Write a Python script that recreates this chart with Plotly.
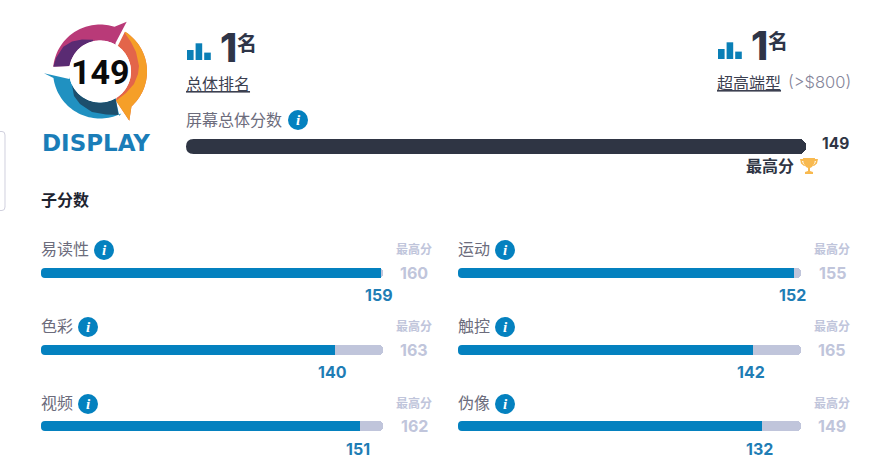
import math
import plotly.graph_objects as go

W = 888
H = 473

# scores
overall_score = 149
overall_max = 149
categories = ["易读性", "色彩", "视频", "运动", "触控", "伪像"]
scores = [159, 140, 151, 152, 142, 132]
max_scores = [160, 163, 162, 155, 165, 149]

BLUE = "#0481bf"
TRACK = "#c0c5db"
DARK = "#2f3544"
CJK = "Noto Sans CJK SC"
NUM = "Inter"


def px(x):
    return x / W


def py(y):
    return 1 - y / H


fig = go.Figure()
annotations = []
shapes = []


def label(x, y, text, size, color, anchor="left", family=CJK, weight=400, **kw):
    xref = kw.pop("xref", "paper")
    annotations.append(dict(
        x=x if xref != "paper" else px(x), y=py(y), xref=xref, yref="paper", text=text,
        showarrow=False, xanchor=anchor, yanchor="middle", borderpad=0,
        font=dict(size=size, color=color, family=family, weight=weight, **kw.pop("font", {})),
        **kw,
    ))


def poly(points, color):
    path = "M" + " L".join(f"{px(a):.5f},{py(b):.5f}" for a, b in points) + " Z"
    shapes.append(dict(type="path", xref="paper", yref="paper", path=path,
                       fillcolor=color, line=dict(width=0), layer="above"))


def arc(cx, cy, r, a0, a1, n=40):
    out = []
    for i in range(n + 1):
        a = math.radians(a0 + (a1 - a0) * i / n)
        out.append((cx + r * math.cos(a), cy - r * math.sin(a)))
    return out


def add_bar(name, value, top, x0, x1, y0, y1, color, idx, radius):
    # each bar gets its own little axis pair, range is the max score
    xa = f"x{idx}"
    ya = f"y{idx}"
    fig.add_trace(go.Bar(y=[name], x=[top], orientation="h",
                         marker=dict(color=TRACK, line=dict(width=0), cornerradius=radius),
                         xaxis=xa, yaxis=ya, hoverinfo="skip", showlegend=False))
    fig.add_trace(go.Bar(y=[name], x=[value], orientation="h",
                         marker=dict(color=color, line=dict(width=0), cornerradius=radius),
                         xaxis=xa, yaxis=ya, showlegend=False))
    axis = dict(visible=False, fixedrange=True)
    fig.update_layout({
        f"xaxis{idx}": dict(domain=[px(x0), px(x1)], range=[0, top], anchor=ya, **axis),
        f"yaxis{idx}": dict(domain=[py(y1), py(y0)], anchor=xa, **axis),
    })
    # plotly only rounds the far end of a bar, so mask the two corners at the base
    for ye, sign in [(y0, 1), (y1, -1)]:
        path = (f"M{px(x0 - 0.5):.5f},{py(ye - sign):.5f} L{px(x0 + radius):.5f},{py(ye - sign):.5f} "
                f"L{px(x0 + radius):.5f},{py(ye):.5f} Q{px(x0):.5f},{py(ye):.5f} {px(x0):.5f},{py(ye + sign * radius):.5f} "
                f"L{px(x0 - 0.5):.5f},{py(ye + sign * radius):.5f} Z")
        shapes.append(dict(type="path", xref="paper", yref="paper", path=path,
                           fillcolor="white", line=dict(width=0), layer="above"))


def info(cx, cy):
    shapes.append(dict(type="circle", xref="paper", yref="paper", x0=px(cx - 10), x1=px(cx + 10),
                       y0=py(cy + 10), y1=py(cy - 10), fillcolor=BLUE, line=dict(width=0)))
    label(cx, cy, "<i>i</i>", 15, "white", anchor="center", family="Liberation Serif", weight=700)


def rank_icon(x, ybase):
    for dx, h in [(0, 10), (8.6, 16.7), (17.2, 7.4)]:
        shapes.append(dict(type="rect", xref="paper", yref="paper", x0=px(x + dx), x1=px(x + dx + 6.6),
                           y0=py(ybase), y1=py(ybase - h), fillcolor="#0a7fb6", line=dict(width=0)))


# overall bar
add_bar("屏幕总体分数", overall_score, overall_max, 186, 806, 139, 154, DARK, 1, 7.5)

# sub score bars, two columns of three
col_x = [(41, 383), (458, 801)]
row_top = [268, 345, 421]
text_y = [248, 325, 402]
score_y = [295, 372, 449]
info_x = [104, 88, 88, 505, 505, 505]
for i, name in enumerate(categories):
    col = i // 3
    row = i % 3
    x0, x1 = col_x[col]
    idx = i + 2
    add_bar(name, scores[i], max_scores[i], x0, x1, row_top[row], row_top[row] + 10, BLUE, idx, 4)
    label(x0 - 1, text_y[row], name, 16, "#6c6c7c")
    info(info_x[i], text_y[row] + 2)
    side = x1 + 31
    label(side, text_y[row], "最高分", 12, TRACK, anchor="center", weight=700)
    label(side, row_top[row] + 5, str(max_scores[i]), 16, TRACK, anchor="center", family=NUM, weight=700)
    label(scores[i], score_y[row], str(scores[i]), 16, "#1f7db5", anchor="center", family=NUM, weight=700,
          xref=f"x{idx}", xshift=-2)

# rank blocks
rank_icon(187, 60)
label(219, 47, "1", 39, "#2e3548", family=NUM, weight=800)
label(236, 42, "名", 20, "#2e3548", weight=700)
label(185, 83, "总体排名", 16, "#3c4050", font=dict(lineposition="under"))
rank_icon(718, 59)
label(750, 46, "1", 39, "#2e3548", family=NUM, weight=800)
label(767, 41, "名", 20, "#2e3548", weight=700)
label(716, 82, "超高端型", 16, "#3c4050", font=dict(lineposition="under"))
label(787, 82, "(&gt;$800)", 16.5, "#85859a", family=NUM, weight=300)

label(185, 119, "屏幕总体分数", 16, "#6c6c7c")
info(298, 120)
label(850, 143, "149", 15.5, DARK, anchor="right", family=NUM, weight=700)
label(745, 165, "最高分", 16, DARK, weight=700)
label(40, 199, "子分数", 16, "#1e2430", weight=700)

# trophy
gold = "#f8b94f"
poly([(803, 158), (815, 158), (814.5, 163), (812, 167), (810, 168), (810, 171), (813, 172), (813, 174),
      (805, 174), (805, 172), (808, 171), (808, 168), (806, 167), (803.5, 163)], gold)
poly([(800, 159), (804, 159), (804.5, 161), (802, 161), (803, 163.5), (805.5, 165.5), (804, 166), (801, 163.5)], gold)
poly([(818, 159), (814, 159), (813.5, 161), (816, 161), (815, 163.5), (812.5, 165.5), (814, 166), (817, 163.5)], gold)

# card edge on the left
card = (f"M0,{py(131.5):.5f} L{px(2):.5f},{py(131.5):.5f} Q{px(5):.5f},{py(131.5):.5f} {px(5):.5f},{py(135):.5f} "
        f"L{px(5):.5f},{py(207):.5f} Q{px(5):.5f},{py(210.5):.5f} {px(2):.5f},{py(210.5):.5f} L0,{py(210.5):.5f}")
shapes.append(dict(type="path", xref="paper", yref="paper", path=card, line=dict(color="#d0d0de", width=1)))

# logo
cx, cy = 100, 71.5
R = 47
r = 31
# top piece
poly(arc(cx, cy, R, 174, 72) + [(126.7, 21.7), (115.5, 43)] + arc(cx, cy, r, 60, 170), "#b93a78")
poly([(53.3, 66.7), (56, 58), (63.3, 46.7), (72, 41.5), (82, 39.5), (93, 39.8)] + arc(cx, cy, r, 103, 170), "#5a2b73")
# right piece
poly(arc(cx, cy, R, 58, -48) + [(129.3, 120.7), (116, 100.7)] + arc(cx, cy, r, -58, 55), "#e3654a")
poly([(125, 33.3)] + arc(cx, cy, R, 58, -48) + [(129.3, 120.7), (116, 100.7), (126, 93), (134, 84), (138, 74), (139, 66),
                                                 (136, 52), (131, 42)], "#f59f28")
# bottom piece
poly([(44, 73.3), (69.3, 79)] + arc(cx, cy, r, 190, 300) + [(119.3, 116)] + arc(cx, cy, R, -63, -172), "#2091c1")
poly(arc(cx, cy, r, 205, 300) + [(118.5, 115), (106, 114.5), (92, 112), (80, 104), (74, 96)], "#1d4f6d")
shapes.append(dict(type="circle", xref="paper", yref="paper", x0=px(cx - r), x1=px(cx + r),
                   y0=py(cy + r), y1=py(cy - r), fillcolor="white", line=dict(width=0), layer="above"))
label(100, 71.5, "149", 34, "#0a0a0a", anchor="center", family="Roboto", weight=700)
label(96, 143, "DISPLAY", 23, "#1a7db8", anchor="center", family="DejaVu Sans", weight=700)

fig.update_layout(
    width=W, height=H, margin=dict(l=0, r=0, t=0, b=0),
    paper_bgcolor="white", plot_bgcolor="rgba(0,0,0,0)",
    barmode="overlay", bargap=0,
    showlegend=False, annotations=annotations, shapes=shapes,
)
fig.write_html("out.html", config={"displayModeBar": False},
               post_script="document.body.style.margin='0';document.body.style.overflow='hidden';")
